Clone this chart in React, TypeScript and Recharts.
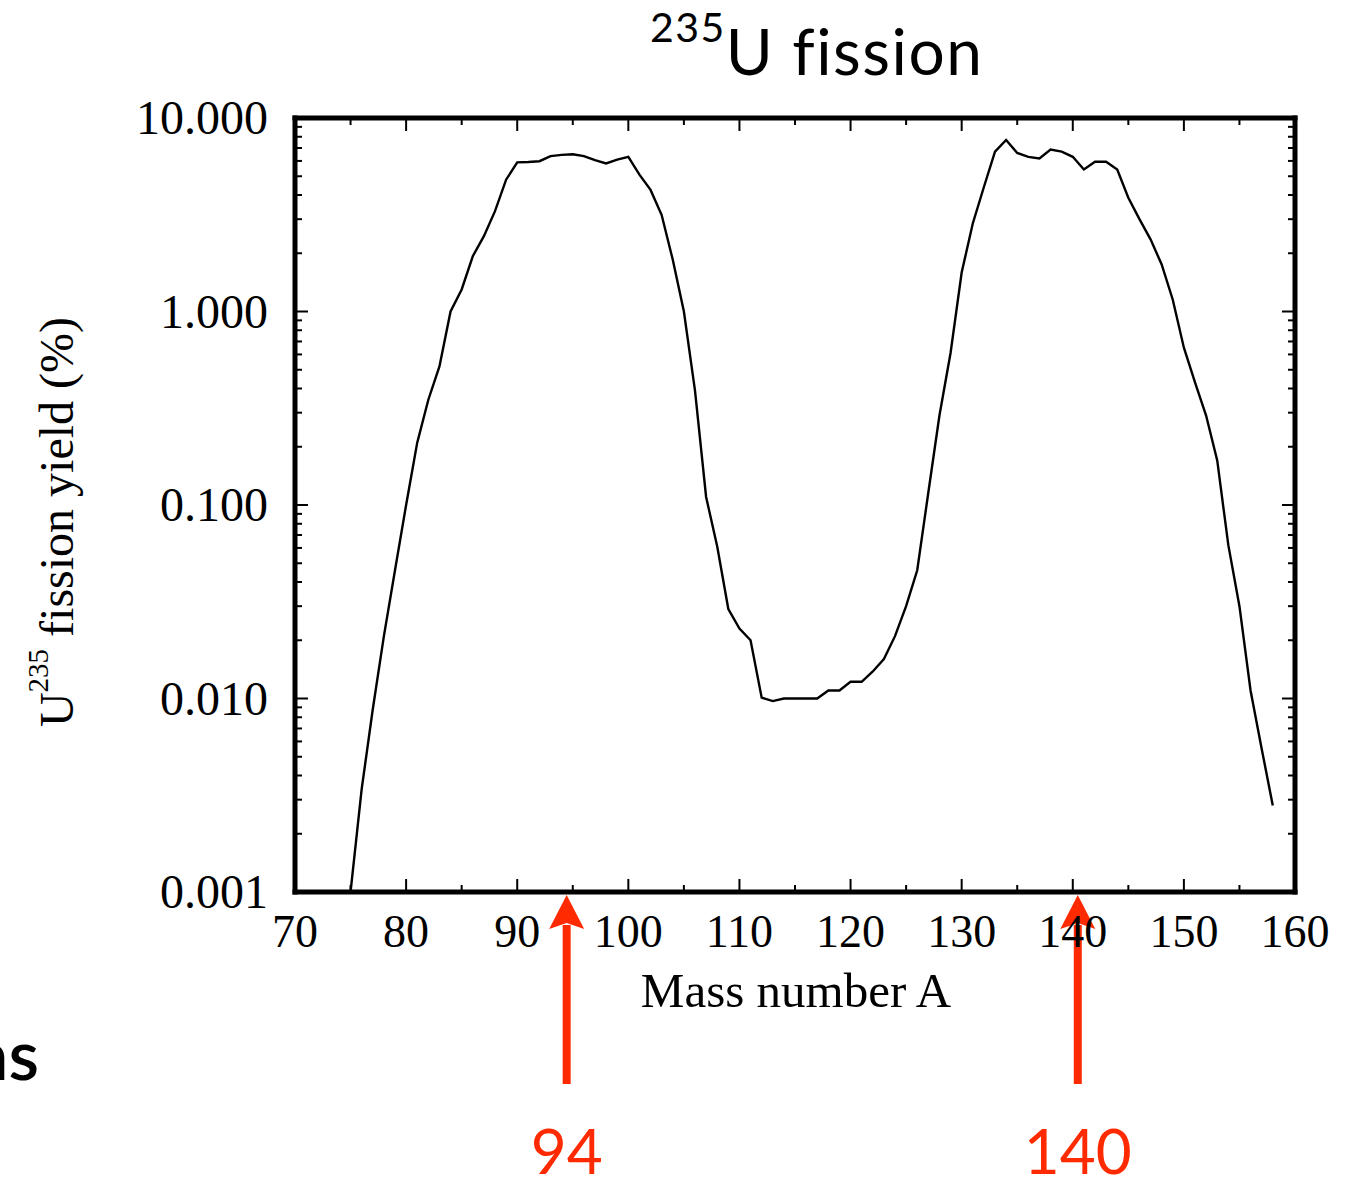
import React from 'react';
import { LineChart, Line, XAxis, YAxis, ReferenceLine } from 'recharts';

// mass numbers A and thermal fission yields (%)
const massNumbers = [
    75, 76, 77, 78, 79, 80, 81, 82, 83, 84, 85, 86, 87, 88, 89, 90, 91, 92, 93, 94,
    95, 96, 97, 98, 99, 100, 101, 102, 103, 104, 105, 106, 107, 108, 109, 110, 111, 112, 113, 114,
    115, 116, 117, 118, 119, 120, 121, 122, 123, 124, 125, 126, 127, 128, 129, 130, 131, 132, 133, 134,
    135, 136, 137, 138, 139, 140, 141, 142, 143, 144, 145, 146, 147, 148, 149, 150, 151, 152, 153, 154,
    155, 156, 157, 158,
];
const yields = [
    0.001, 0.0034, 0.0088, 0.021, 0.046, 0.1, 0.21, 0.35, 0.52, 1.0, 1.3, 1.93, 2.45, 3.3, 4.8, 5.9, 5.92, 5.98, 6.35, 6.45,
    6.5, 6.35, 6.05, 5.82, 6.1, 6.3, 5.1, 4.25, 3.15, 1.85, 1.0, 0.39, 0.11, 0.061, 0.029, 0.023, 0.02, 0.0101, 0.0097, 0.01,
    0.01, 0.01, 0.01, 0.011, 0.011, 0.0122, 0.0122, 0.0138, 0.016, 0.021, 0.03, 0.046, 0.116, 0.29, 0.61, 1.59, 2.85, 4.4, 6.7, 7.7,
    6.6, 6.3, 6.18, 6.87, 6.7, 6.3, 5.42, 5.94, 5.94, 5.42, 3.87, 3.0, 2.36, 1.75, 1.15, 0.65, 0.43, 0.29, 0.17, 0.062,
    0.03, 0.011, 0.0055, 0.0028,
];

const xTicks = [70, 75, 80, 85, 90, 95, 100, 105, 110, 115, 120, 125, 130, 135, 140, 145, 150, 155, 160];
const yDecades = [0.001, 0.01, 0.1, 1, 10];
const yMinorSteps = [2, 3, 4, 5, 6, 7, 8, 9];
const yTicks = [
    ...yDecades.slice(0, -1).flatMap(d => [d, ...yMinorSteps.map(k => +(d * k).toPrecision(3))]),
    10,
];

const peaks = [
    { A: 94, label: '94' },
    { A: 140, label: '140' },
];

const data = massNumbers.map((A, i) => ({ A, y: yields[i] }));

const SERIF = '"Liberation Serif", "Times New Roman", serif';
const SANS = 'Lato, "Noto Sans", sans-serif';
const RED = '#ff2a00';

const isDecade = (v: number) => Math.abs(Math.log10(v) - Math.round(Math.log10(v))) < 1e-6;

const BottomTick = ({ x, y, payload }: any) => {
    const major = payload.value % 10 === 0;
    return (
        <g>
            <line x1={x} x2={x} y1={y} y2={y - (major ? 13 : 7)} stroke="#000" strokeWidth={2} />
            {major && (
                <text x={x} y={y + 55} textAnchor="middle" fontFamily={SERIF} fontSize={46} fill="#000">
                    {payload.value}
                </text>
            )}
        </g>
    );
};

const TopTick = ({ x, y, payload }: any) => {
    const major = payload.value % 10 === 0;
    return <line x1={x} x2={x} y1={y} y2={y + (major ? 13 : 7)} stroke="#000" strokeWidth={2} />;
};

const LeftTick = ({ x, y, payload }: any) => {
    const major = isDecade(payload.value);
    return (
        <g>
            <line x1={x} x2={x + (major ? 13 : 7)} y1={y} y2={y} stroke="#000" strokeWidth={2} />
            {major && (
                <text x={x - 27} y={y + 16} textAnchor="end" fontFamily={SERIF} fontSize={48} fill="#000">
                    {payload.value.toFixed(3)}
                </text>
            )}
        </g>
    );
};

const RightTick = ({ x, y, payload }: any) => {
    const major = isDecade(payload.value);
    return <line x1={x} x2={x - (major ? 13 : 7)} y1={y} y2={y} stroke="#000" strokeWidth={2} />;
};

const PeakArrow = (label: string) => (props: any) => {
    const cx = props.x1 + 5;
    const base = Math.max(props.y1, props.y2);
    const tip = base + 3;
    return (
        <g>
            <line x1={cx} x2={cx} y1={tip + 30} y2={1084} stroke={RED} strokeWidth={8} />
            <polygon
                points={`${cx},${tip} ${cx + 17.5},${tip + 34} ${cx},${tip + 28} ${cx - 17.5},${tip + 34}`}
                fill={RED}
            />
            <text x={cx} y={1174} textAnchor="middle" fontFamily={SANS} fontSize={62} fill={RED}>
                {label}
            </text>
        </g>
    );
};

const frame = { stroke: '#000', strokeWidth: 5, strokeLinecap: 'square' as const };

const App: React.FC = () => {
    return (
        <div style={{ position: 'relative', width: 1361, height: 1188, background: '#fff' }}>
            <style>{'body{margin:0;background:#fff}'}</style>
            <LineChart
                width={1361}
                height={1188}
                data={data}
                margin={{ top: 117, right: 65, bottom: 295, left: 294 }}
            >
                <XAxis
                    xAxisId="bottom"
                    dataKey="A"
                    type="number"
                    domain={[70, 160]}
                    ticks={xTicks}
                    interval={0}
                    height={1}
                    tickSize={0}
                    tickMargin={0}
                    tickLine={false}
                    axisLine={frame}
                    tick={<BottomTick />}
                />
                <XAxis
                    xAxisId="top"
                    orientation="top"
                    dataKey="A"
                    type="number"
                    domain={[70, 160]}
                    ticks={xTicks}
                    interval={0}
                    height={1}
                    tickSize={0}
                    tickMargin={0}
                    tickLine={false}
                    axisLine={frame}
                    tick={<TopTick />}
                />
                <YAxis
                    yAxisId="left"
                    scale="log"
                    type="number"
                    domain={[0.001, 10]}
                    ticks={yTicks}
                    interval={0}
                    width={1}
                    tickSize={0}
                    tickMargin={0}
                    tickLine={false}
                    axisLine={frame}
                    allowDataOverflow
                    tick={<LeftTick />}
                />
                <YAxis
                    yAxisId="right"
                    orientation="right"
                    scale="log"
                    type="number"
                    domain={[0.001, 10]}
                    ticks={yTicks}
                    interval={0}
                    width={1}
                    tickSize={0}
                    tickMargin={0}
                    tickLine={false}
                    axisLine={frame}
                    allowDataOverflow
                    tick={<RightTick />}
                />
                <Line
                    xAxisId="bottom"
                    yAxisId="left"
                    dataKey="y"
                    type="linear"
                    stroke="#000"
                    strokeWidth={2.4}
                    dot={false}
                    isAnimationActive={false}
                />
                {peaks.map(p => (
                    <ReferenceLine
                        key={p.label}
                        xAxisId="bottom"
                        yAxisId="left"
                        x={p.A}
                        stroke="none"
                        shape={PeakArrow(p.label)}
                    />
                ))}
            </LineChart>
            <svg
                width={1361}
                height={1188}
                style={{ position: 'absolute', left: 0, top: 0, pointerEvents: 'none' }}
            >
                <text x={650} y={75} fontFamily={SANS} fontSize={64} fill="#000" letterSpacing={1.5}>
                    <tspan fontSize={41} dy={-33}>235</tspan>
                    <tspan dy={33}>U fission</tspan>
                </text>
                <text
                    transform="translate(73, 522) rotate(-90)"
                    textAnchor="middle"
                    fontFamily={SERIF}
                    fontSize={48}
                    fill="#000"
                >
                    U<tspan fontSize={29} dy={-25}>235</tspan>
                    <tspan dy={25}> fission yield (%)</tspan>
                </text>
                <text x={796} y={1007} textAnchor="middle" fontFamily={SERIF} fontSize={49} fill="#000">
                    Mass number A
                </text>
                <text x={39} y={1080} textAnchor="end" fontFamily={SANS} fontSize={70} fontWeight={600} fill="#000">
                    ns
                </text>
            </svg>
        </div>
    );
};

export default App;
